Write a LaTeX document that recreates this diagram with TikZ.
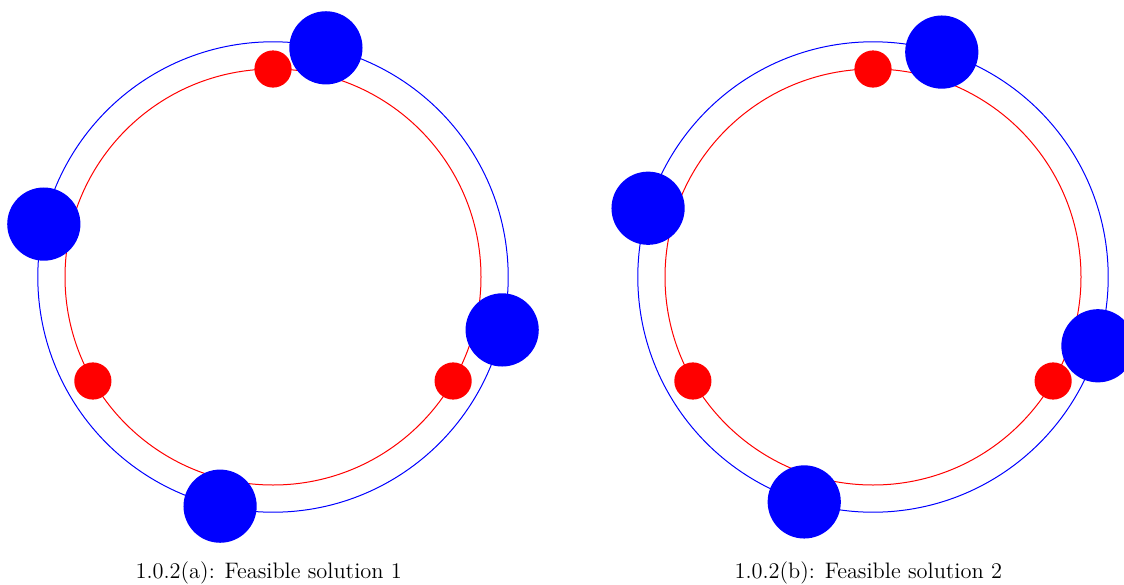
\documentclass[tikz,border=0pt]{standalone}
\usetikzlibrary{calc}
\begin{document}
\begin{tikzpicture}[x=0.5pt,y=-0.5pt,
  bigdot/.style={circle,fill=blue,inner sep=0pt,minimum size=36.6pt},
  smalldot/.style={circle,fill=red,inner sep=0pt,minimum size=18.6pt},
  outerring/.style={draw=blue,line width=0.5pt},
  innerring/.style={draw=red,line width=0.5pt},
  caption/.style={font=\fontsize{11.2}{13.5}\selectfont}]
\useasboundingbox (0,0) rectangle (1124,584);
% left figure
\coordinate (cA) at (273,277);
\draw[innerring] (cA) circle[radius=104pt];
\draw[outerring] (cA) circle[radius=117.6pt];
\foreach \a/\n in {90/1,210/2,330/3}
  \node[smalldot] (ra\n) at ($(cA)+(\a:208 and -208)$) {};
\foreach \a/\n in {77/1,167/2,257/3,347/4}
  \node[bigdot] (ba\n) at ($(cA)+(\a:235.2 and -235.2)$) {};
\node[caption] (capA) at (268.7,573) {1.0.2(a): Feasible solution 1};
% right figure
\coordinate (cB) at (873,277);
\draw[innerring] (cB) circle[radius=104pt];
\draw[outerring] (cB) circle[radius=117.6pt];
\foreach \a/\n in {90/1,210/2,330/3}
  \node[smalldot] (rb\n) at ($(cB)+(\a:208 and -208)$) {};
\foreach \a/\n in {73/1,163/2,253/3,343/4}
  \node[bigdot] (bb\n) at ($(cB)+(\a:235.2 and -235.2)$) {};
\node[caption] (capB) at (868.3,573) {1.0.2(b): Feasible solution 2};
\end{tikzpicture}
\end{document}
